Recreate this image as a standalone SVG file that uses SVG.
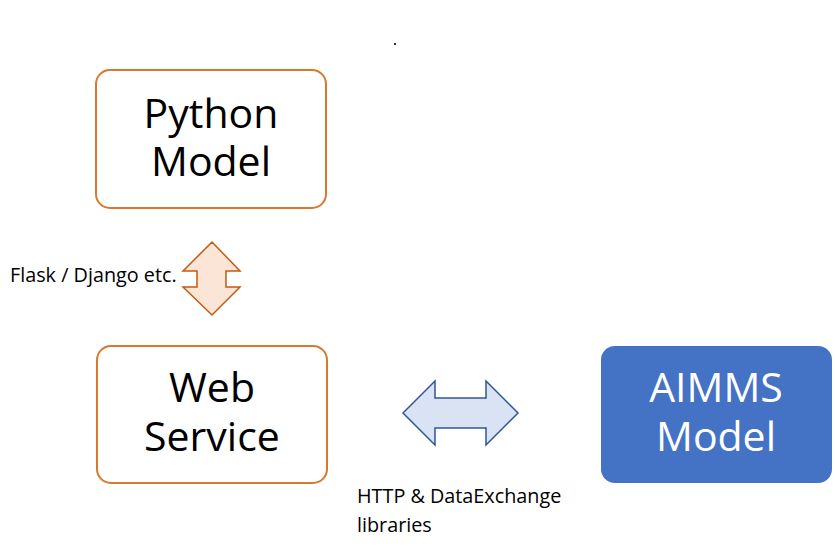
<svg xmlns="http://www.w3.org/2000/svg" width="835" height="557" viewBox="0 0 835 557">
<style>
.box{fill:#FFFFFF;stroke:#D9782F;stroke-width:2}
.big{font-family:"Open Sans","Noto Sans",sans-serif;font-size:41px;fill:#000;text-anchor:middle}
.wbig{font-family:"Open Sans","Noto Sans",sans-serif;font-size:41px;fill:#FFFFFF;text-anchor:middle}
.lbl{font-family:"Open Sans","Noto Sans",sans-serif;font-size:19.8px;fill:#000}
</style>
<rect width="835" height="557" fill="#FFFFFF"/>
<rect x="394" y="43" width="2" height="2" fill="#333"/>
<g id="python-model">
<rect class="box" x="96" y="70" width="230" height="138" rx="14"/>
<text class="big" x="211" y="128">Python</text>
<text class="big" x="211" y="176">Model</text>
</g>
<g id="web-service">
<rect class="box" x="97" y="346" width="230" height="137" rx="14"/>
<text class="big" x="212" y="402">Web</text>
<text class="big" x="212" y="451">Service</text>
</g>
<g id="aimms-model">
<rect x="601" y="346" width="231" height="137" rx="14" fill="#4472C4"/>
<text class="wbig" x="716" y="402">AIMMS</text>
<text class="wbig" x="716" y="451">Model</text>
</g>
<g id="connectors">
<polygon points="212,242 240,271 226,271 226,287 240,287 212,315 183,287 197,287 197,271 183,271" fill="#FBE5D6" stroke="#C55A11" stroke-width="1.5" stroke-linejoin="miter"/>
<polygon points="403,413 435,381 435,398 486,398 486,381 518,413 486,445 486,428 435,428 435,445" fill="#DAE3F3" stroke="#2F5597" stroke-width="1.5"/>
</g>
<text class="lbl" x="10" y="282">Flask / Django etc.</text>
<text class="lbl" x="357" y="503">HTTP &amp; DataExchange</text>
<text class="lbl" x="357" y="532">libraries</text>
</svg>
